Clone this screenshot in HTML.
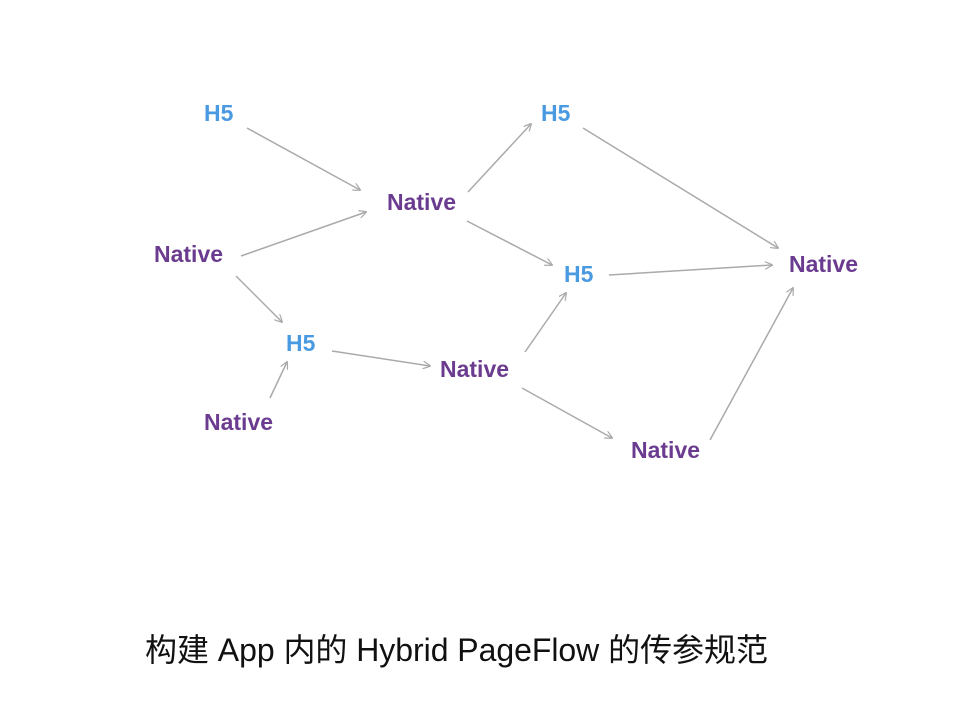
<!DOCTYPE html>
<html><head><meta charset="utf-8"><style>
html,body{margin:0;padding:0;background:#fff;}
svg{display:block;}
text{font-family:"Liberation Sans","Noto Sans CJK SC",sans-serif;}
.b{fill:#4a9ae2;font-size:23px;font-weight:bold;}
.p{fill:#6a3b8f;font-size:23px;font-weight:bold;}
line{stroke:#aaaaaa;stroke-width:1.5;marker-end:url(#a);}
</style></head><body>
<svg width="959" height="720" viewBox="0 0 959 720">
<defs><marker id="a" viewBox="0 0 10 10" refX="9" refY="5" markerWidth="8" markerHeight="8" orient="auto" markerUnits="userSpaceOnUse"><path d="M0,0 L10,5 L0,10" fill="none" stroke="#aaaaaa" stroke-width="1.5"/></marker></defs>
<line x1="247" y1="128" x2="360" y2="190"/>
<line x1="241" y1="256" x2="366" y2="212"/>
<line x1="236" y1="276" x2="282" y2="322"/>
<line x1="270" y1="398" x2="287" y2="362"/>
<line x1="332" y1="351" x2="430" y2="366"/>
<line x1="468" y1="192" x2="531" y2="124"/>
<line x1="467" y1="221" x2="552" y2="265"/>
<line x1="583" y1="128" x2="778" y2="248"/>
<line x1="609" y1="275" x2="772" y2="265"/>
<line x1="525" y1="352" x2="566" y2="293"/>
<line x1="522" y1="388" x2="612" y2="438"/>
<line x1="710" y1="440" x2="793" y2="288"/>
<text class="b" x="204" y="121">H5</text>
<text class="p" x="154" y="262">Native</text>
<text class="p" x="387" y="210">Native</text>
<text class="b" x="541" y="121">H5</text>
<text class="b" x="564" y="282">H5</text>
<text class="p" x="789" y="272">Native</text>
<text class="b" x="286" y="351">H5</text>
<text class="p" x="204" y="430">Native</text>
<text class="p" x="440" y="377">Native</text>
<text class="p" x="631" y="458">Native</text>
<text x="145" y="661" textLength="623" style="font-size:32px;fill:#111;">构建 App 内的 Hybrid PageFlow 的传参规范</text>
</svg>
</body></html>
